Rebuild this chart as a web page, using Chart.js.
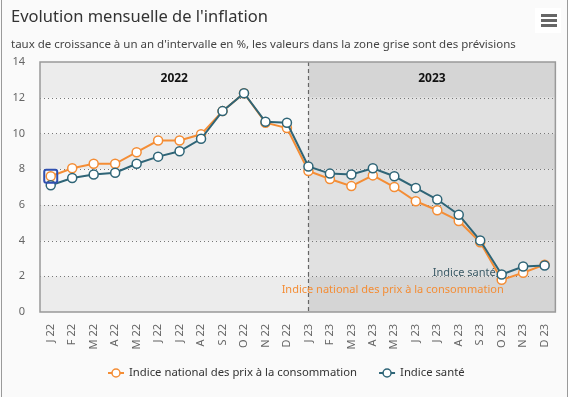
<!DOCTYPE html>
<html><head><meta charset="utf-8">
<script src="https://cdn.jsdelivr.net/npm/chart.js@4.4.1/dist/chart.umd.min.js"></script>
<style>html,body{margin:0;padding:0;background:#fff;} #wrap{position:relative;width:570px;height:397px;} canvas{display:block;}</style>
</head><body><div id="wrap"><canvas id="c" width="570" height="397"></canvas></div>
<script>
const categories = ['J 22','F 22','M 22','A 22','M 22','J 22','J 22','A 22','S 22','O 22','N 22','D 22','J 23','F 23','M 23','A 23','M 23','J 23','J 23','A 23','S 23','O 23','N 23','D 23'];
const ipcValues = [7.6,8.05,8.3,8.3,8.95,9.6,9.6,9.95,11.25,12.25,10.6,10.3,7.9,7.45,7.05,7.65,7.0,6.2,5.7,5.1,3.9,1.8,2.2,2.65];
const santeValues = [7.1,7.5,7.7,7.8,8.3,8.7,9.0,9.7,11.25,12.25,10.65,10.6,8.15,7.75,7.7,8.05,7.6,6.95,6.3,5.45,4.0,2.1,2.55,2.6];
const seriesNames = ['Indice national des prix à la consommation','Indice santé'];
const yTicks = [0,2,4,6,8,10,12,14];
const yearLabels = ['2022','2023'];
const forecastStartIndex = 12;
const labelAnchorIndex = 21;
const titleText = "Evolution mensuelle de l'inflation";
const subtitleText = "taux de croissance à un an d'intervalle en %, les valeurs dans la zone grise sont des prévisions";

const ORANGE = '#f48d35';
const TEAL = '#2f6577';
const FONT = '"Noto Sans", "Open Sans", sans-serif';

const decor = {
  id: 'decor',
  beforeDraw(chart) {
    const ctx = chart.ctx, W = chart.width, H = chart.height;
    ctx.save();
    ctx.fillStyle = '#fafafa';
    ctx.fillRect(0, 0, W, H);
    ctx.fillStyle = '#ffffff';
    ctx.fillRect(568, 0, 2, H);
    ctx.strokeStyle = '#9a9a9a';
    ctx.lineWidth = 1;
    ctx.beginPath(); ctx.moveTo(1.5, 0); ctx.lineTo(1.5, H); ctx.stroke();
    ctx.beginPath(); ctx.moveTo(567.5, 0); ctx.lineTo(567.5, H); ctx.stroke();
    // title
    ctx.fillStyle = '#333333';
    ctx.textBaseline = 'alphabetic';
    ctx.textAlign = 'left';
    ctx.font = '16.5px ' + FONT;
    ctx.fillText(titleText, 11, 22);
    ctx.font = '11.5px ' + FONT;
    ctx.fillStyle = '#444444';
    ctx.fillText(subtitleText, 11, 48);
    // menu icon
    ctx.fillStyle = '#ffffff';
    ctx.fillRect(535, 8, 26, 25);
    ctx.fillStyle = '#666666';
    for (const yy of [14, 19, 24]) ctx.fillRect(541, yy, 16, 3);
    // legend
    ctx.font = '11.3px ' + FONT;
    ctx.textBaseline = 'middle';
    const ly = 373;
    const items = chart.data.datasets.map(d => ({label: d.label, color: d.borderColor}));
    const widths = items.map(it => ctx.measureText(it.label).width);
    const gap = 22, sym = 16, sp = 5;
    let total = 0;
    widths.forEach((w, i) => { total += sym + sp + w + (i < widths.length - 1 ? gap : 0); });
    let x = Math.round(W / 2 - total / 2) + 1;
    items.forEach((it, i) => {
      ctx.strokeStyle = it.color; ctx.lineWidth = 2;
      ctx.beginPath(); ctx.moveTo(x, ly); ctx.lineTo(x + sym, ly); ctx.stroke();
      ctx.beginPath(); ctx.arc(x + sym / 2, ly, 4, 0, Math.PI * 2);
      ctx.fillStyle = '#ffffff'; ctx.fill(); ctx.lineWidth = 1.5; ctx.stroke();
      ctx.fillStyle = '#333333';
      ctx.fillText(it.label, x + sym + sp, ly);
      x += sym + sp + widths[i] + gap;
    });
    ctx.restore();
  },
  beforeDatasetsDraw(chart) {
    const ctx = chart.ctx, a = chart.chartArea;
    const xs = chart.scales.x, ys = chart.scales.y;
    const splitX = Math.round(xs.getPixelForValue(forecastStartIndex)) + 0.5;
    ctx.save();
    // bands
    for (let i = 0; i < yTicks.length - 1; i++) {
      const yTop = ys.getPixelForValue(yTicks[i + 1]);
      const yBot = ys.getPixelForValue(yTicks[i]);
      const dark = (i % 2 === 0);
      ctx.fillStyle = dark ? '#ececec' : '#f7f7f7';
      ctx.fillRect(a.left, yTop, splitX - a.left, yBot - yTop);
      ctx.fillStyle = dark ? '#d5d5d5' : '#e1e1e1';
      ctx.fillRect(splitX, yTop, a.right - splitX, yBot - yTop);
    }
    // dotted grid
    ctx.strokeStyle = '#777777';
    ctx.lineWidth = 1;
    ctx.setLineDash([1, 3]);
    for (const t of yTicks) {
      if (t === yTicks[0] || t === yTicks[yTicks.length - 1]) continue;
      const y = Math.round(ys.getPixelForValue(t)) + 0.5;
      ctx.beginPath(); ctx.moveTo(a.left, y); ctx.lineTo(a.right, y); ctx.stroke();
    }
    // dashed split line
    ctx.strokeStyle = '#666666';
    ctx.lineWidth = 1.2;
    ctx.setLineDash([4, 3]);
    ctx.beginPath(); ctx.moveTo(splitX, a.top); ctx.lineTo(splitX, a.bottom); ctx.stroke();
    ctx.setLineDash([]);
    // border
    ctx.strokeStyle = '#999999';
    ctx.lineWidth = 1.5;
    ctx.strokeRect(a.left, a.top, a.right - a.left, a.bottom - a.top);
    // year labels
    ctx.fillStyle = '#111111';
    ctx.font = 'bold 12px ' + FONT;
    ctx.textAlign = 'center';
    ctx.textBaseline = 'middle';
    ctx.fillText(yearLabels[0], (a.left + splitX) / 2, a.top + 17);
    ctx.fillText(yearLabels[1], (splitX + a.right) / 2, a.top + 17);
    // series labels near anchor point
    const mSante = chart.getDatasetMeta(1).data[labelAnchorIndex];
    const mIpc = chart.getDatasetMeta(0).data[labelAnchorIndex];
    ctx.font = '11px ' + FONT;
    ctx.textAlign = 'right';
    ctx.fillStyle = '#3b5a66';
    ctx.fillText(seriesNames[1], mSante.x - 6, mSante.y - 2);
    ctx.fillStyle = ORANGE;
    ctx.fillText(seriesNames[0], mIpc.x + 2, mIpc.y + 10);
    ctx.restore();
  },
  afterDatasetsDraw(chart) {
    const ctx = chart.ctx;
    const p = chart.getDatasetMeta(0).data[0];
    ctx.save();
    ctx.strokeStyle = '#3050b0';
    ctx.lineWidth = 2;
    const s = 13;
    ctx.beginPath();
    if (ctx.roundRect) ctx.roundRect(p.x - s / 2, p.y - s / 2, s, s, 2); else ctx.rect(p.x - s / 2, p.y - s / 2, s, s);
    ctx.stroke();
    ctx.restore();
  }
};

new Chart(document.getElementById('c'), {
  type: 'line',
  data: {
    labels: categories,
    datasets: [
      { label: seriesNames[0], data: ipcValues, borderColor: ORANGE, backgroundColor: '#ffffff',
        pointBackgroundColor: '#ffffff', pointBorderColor: ORANGE, borderWidth: 2, pointRadius: 4.5,
        pointBorderWidth: 1.5, tension: 0, order: 1 },
      { label: seriesNames[1], data: santeValues, borderColor: TEAL, backgroundColor: '#ffffff',
        pointBackgroundColor: '#ffffff', pointBorderColor: TEAL, borderWidth: 2, pointRadius: 4.5,
        pointBorderWidth: 1.5, tension: 0, order: 0 }
    ]
  },
  options: {
    responsive: false,
    animation: false,
    devicePixelRatio: 1,
    layout: { padding: { left: 0, right: 8, top: 62, bottom: 35 } },
    plugins: { legend: { display: false }, title: { display: false }, tooltip: { enabled: false } },
    scales: {
      x: {
        type: 'category', offset: true,
        grid: { display: false, drawTicks: false },
        border: { display: false },
        ticks: { autoSkip: false, maxRotation: 90, minRotation: 90, padding: 12,
                 color: '#666666', font: { family: FONT, size: 11 } },
        afterFit(s) { s.height = 50; }
      },
      y: {
        min: 0, max: 14,
        grid: { display: false, drawTicks: false },
        border: { display: false },
        ticks: { stepSize: 2, padding: 15, color: '#666666', font: { family: FONT, size: 11 } },
        afterFit(s) { s.width = 40; }
      }
    }
  },
  plugins: [decor]
});
</script>
</body></html>
